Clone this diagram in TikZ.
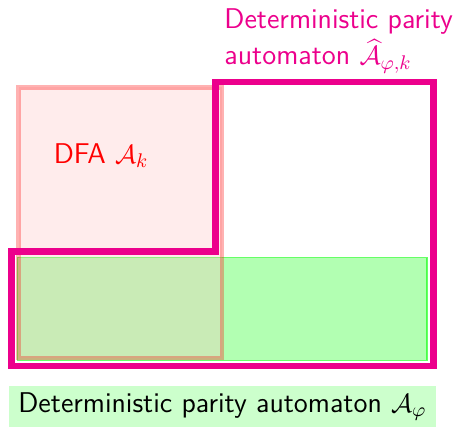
\documentclass[tikz,border=0pt]{standalone}
\usepackage{amsmath}
\usetikzlibrary{positioning}
\definecolor{Rubine}{RGB}{236,0,140}
\begin{document}
\begin{tikzpicture}
    [
        font=\sffamily\fontsize{13}{16.6}\selectfont,
        DFABox/.style={draw=red,draw opacity=0.3,fill=red!25,fill opacity=0.3,line width=2pt},
        ParityBox/.style={draw=green,draw opacity=0.6,fill=green,fill opacity=0.3,line width=0.5pt},
        HatOutline/.style={draw=Rubine,line width=3pt},
        Caption/.style={fill=green!20,minimum width=6.832cm,minimum height=0.651cm,inner sep=0pt}
    ]
    \useasboundingbox (0,0) rectangle (7.264,6.832);

    \draw[ParityBox] (0.283,1.067) rectangle (6.832,2.709);
    \draw[DFABox] (0.296,1.104) rectangle (3.552,5.432);
    \draw[HatOutline] (0.187,2.811) -- (3.451,2.811) -- (3.451,5.52) -- (6.933,5.52)
        -- (6.933,0.976) -- (0.187,0.976) -- cycle;

    \node[text=red,anchor=base west,inner sep=0pt] (dfa) at (0.853,4.219) {DFA $\mathcal{A}_k$};
    \node[text=Rubine,align=left,anchor=north west,inner sep=0pt] (dpahat) at (3.584,6.70)
        {Deterministic parity\\automaton $\widehat{\mathcal{A}}_{\varphi,k}$};
    \node[Caption] (dpa) at (3.56,0.331) {Deterministic parity automaton $\mathcal{A}_\varphi$};
\end{tikzpicture}
\end{document}
